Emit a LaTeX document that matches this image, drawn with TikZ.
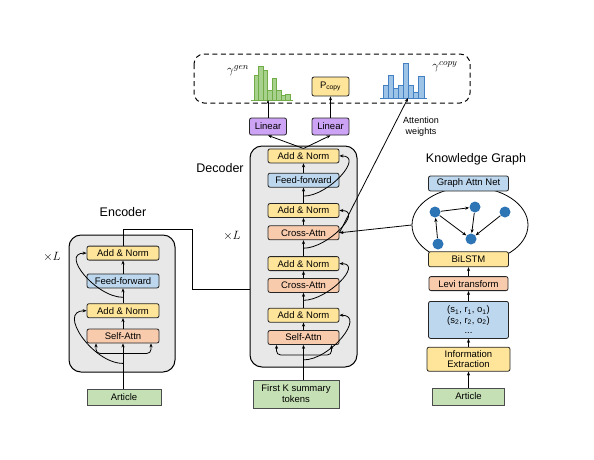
\documentclass[tikz,border=0pt]{standalone}
\usepackage{fontspec}
\setmainfont{Liberation Sans}
\usetikzlibrary{positioning, arrows.meta, shapes.geometric}
\definecolor{normyellow}{RGB}{255,229,153}
\definecolor{ffblue}{RGB}{189,215,238}
\definecolor{attnred}{RGB}{248,203,173}
\definecolor{inputgreen}{RGB}{197,224,180}
\definecolor{linpurple}{RGB}{204,163,245}
\definecolor{stackgray}{RGB}{232,232,232}
\definecolor{graphblue}{RGB}{46,117,182}
\definecolor{histgreen}{RGB}{169,209,142}
\definecolor{histgreenline}{RGB}{112,173,71}
\definecolor{histblue}{RGB}{157,195,230}
\definecolor{histblueline}{RGB}{68,128,196}
\tikzset{
x=1pt, y=-1pt, % coordinates are pixels of the figure, y going down
>={Stealth[length=4pt,width=3.2pt]}, % small filled arrow heads
block/.style={draw=black!85, rounded corners=2pt, minimum height=14pt, inner sep=1pt, font=\fontsize{9.5}{10.5}\selectfont}, % every box of a stack
addnorm/.style={block, fill=normyellow, minimum width=71pt},
ffwd/.style={block, fill=ffblue, minimum width=71pt},
attn/.style={block, fill=attnred, minimum width=71pt},
linear/.style={block, fill=linpurple, minimum width=37pt, minimum height=17pt},
inp/.style={draw=black!70, fill=inputgreen, inner sep=1pt, font=\fontsize{9.5}{11}\selectfont}, % input boxes
stack/.style={draw=black, fill=stackgray, rounded corners=12pt, line width=1pt}, % the gray N x layer
gnode/.style={circle, fill=graphblue, minimum size=11pt, inner sep=0pt}, % graph vertices
title/.style={font=\fontsize{12.5}{14}\selectfont},
}

\begin{document}
\begin{tikzpicture}[line width=0.8pt]
  \useasboundingbox (0,0) rectangle (594,459);

  % output box
  \draw[dash pattern=on 5pt off 3.5pt, line width=1pt, rounded corners=10pt] (194,54) rectangle (470,103);
  \coordinate (gen) at (268,100);
  \coordinate (copy) at (408,98);
  \foreach \h [count=\i] in {25,34,30,10,22,10,5,6}
    \draw[fill=histgreen, draw=histgreenline, line width=0.6pt] (249.5+4.5*\i,100) rectangle ++(4.5,-\h);
  \draw[histgreenline, line width=0.8pt] (251,100) -- (293,100);
  \foreach \h [count=\i] in {13,23,10,13,35,13,6,22}
    \draw[fill=histblue, draw=histblueline, line width=0.6pt] (377.9+5.1*\i,98) rectangle ++(5.1,-\h);
  \draw[histblueline, line width=0.8pt] (380,98) -- (427,98);
  \node[font=\fontsize{12.5}{14}\selectfont] (ggen) at (238,71) {$\gamma^{gen}$};
  \node[font=\fontsize{12.5}{14}\selectfont] (gcopy) at (445,67) {$\gamma^{copy}$};
  \node[block, fill=normyellow, minimum width=37pt, minimum height=19pt] (pcopy) at (330.5,86.5) {P\textsubscript{copy}};

  \node[linear] (lin1) at (268,126.5) {Linear};
  \node[linear] (lin2) at (330.5,126.5) {Linear};
  \draw[->] (lin1) -- (gen);
  \draw[->] (lin2) -- (pcopy);

  % encoder
  \node[title] (enct) at (123,212) {Encoder};
  \node[title] (encl) at (52,257) {$\times L$};
  \filldraw[stack] (69,235) rectangle (175,372);
  \node[attn, minimum width=72pt] (esa) at (123,336) {Self-Attn};
  \node[addnorm, minimum width=72pt, above=10.5pt of esa] (ean1) {Add \& Norm};
  \node[ffwd, minimum width=72pt, above=15pt of ean1] (eff) {Feed-forward};
  \node[addnorm, minimum width=72pt, above=13pt of eff] (ean2) {Add \& Norm};
  \node[inp, minimum width=74pt, minimum height=16pt] (art1) at (124,397) {Article};
  \coordinate[below=10pt of esa] (efork);
  \coordinate[below=20pt of esa] (eres1);
  \coordinate[above=6pt of ean1] (eres2);

  \draw[->] (art1.north -| esa.south) -- (esa.south);
  \draw[->, rounded corners=4pt] (efork) -| ([xshift=-27pt]esa.south);
  \draw[->, rounded corners=4pt] (efork) -| ([xshift=28pt]esa.south);
  \draw[->] (esa) -- (ean1);
  \draw[->] (ean1) -- (eff);
  \draw[->] (eff) -- (ean2);
  \draw[->] (eres1) to[out=180, in=180, looseness=1.2] (ean1.west);
  \draw[->] (eres2) to[out=180, in=180, looseness=1.2] (ean2.west);
  \draw[->] (ean2.north) |- (192,229) |- (269,289);

  % decoder
  \node[title] (dect) at (220,168) {Decoder};
  \node[title] (decl) at (232,236) {$\times L$};
  \filldraw[stack] (250,146) rectangle (357,367);
  \node[attn] (dsa) at (303.5,337.5) {Self-Attn};
  \node[addnorm, above=7.5pt of dsa] (dan1) {Add \& Norm};
  \node[attn, above=15pt of dan1] (dca1) {Cross-Attn};
  \node[addnorm, above=7pt of dca1] (dan2) {Add \& Norm};
  \node[attn, above=16pt of dan2] (dca2) {Cross-Attn};
  \node[addnorm, above=7.5pt of dca2] (dan3) {Add \& Norm};
  \node[ffwd, above=15.5pt of dan3] (dff) {Feed-forward};
  \node[addnorm, above=9.5pt of dff] (dan4) {Add \& Norm};
  \node[inp, minimum width=86pt, minimum height=28pt, align=center] (tok) at (296,394) {First K summary\\tokens};
  \coordinate[below=10pt of dsa] (dfork);
  \coordinate[below=15pt of dsa] (dres1);
  \coordinate[above=7.5pt of dan1] (dres2);
  \coordinate[above=8pt of dan2] (dres3);
  \coordinate[above=7pt of dan3] (dres4);

  \draw[->] (tok.north -| dsa.south) -- (dsa.south);
  \draw[->, rounded corners=4pt] (dfork) -| ([xshift=-27pt]dsa.south);
  \draw[->, rounded corners=4pt] (dfork) -| ([xshift=28pt]dsa.south);
  \draw[->] (dsa) -- (dan1);
  \draw[->] (dan1) -- (dca1);
  \draw[->] (dca1) -- (dan2);
  \draw[->] (dan2) -- (dca2);
  \draw[->] (dca2) -- (dan3);
  \draw[->] (dan3) -- (dff);
  \draw[->] (dff) -- (dan4);
  \draw[->] (dres1) to[out=0, in=0, looseness=1.2] (dan1.east);
  \draw[->] (dres2) to[out=0, in=0, looseness=1.2] (dan2.east);
  \draw[->] (dres3) to[out=0, in=0, looseness=1.2] (dan3.east);
  \draw[->] (dres4) to[out=0, in=0, looseness=1.2] (dan4.east);
  \draw[->] (dan4.north) -- (lin1.south);
  \draw[->] (dan4.north) -- (lin2.south);

  % knowledge graph
  \node[title] (kgt) at (476,159) {Knowledge Graph};
  \node[ellipse, draw, minimum width=116pt, minimum height=76pt, inner sep=0pt] (kg) at (470,225) {};
  \node[inp, minimum width=72pt, minimum height=17pt] (art2) at (468.5,396.5) {Article};
  \node[block, fill=normyellow, minimum width=83pt, minimum height=24pt, align=center, above=16pt of art2] (ie) {Information\\Extraction};
  \node[block, fill=ffblue, minimum width=80pt, minimum height=37pt, align=center, above=8pt of ie] (trip) {(s\textsubscript{1}, r\textsubscript{1}, o\textsubscript{1})\\(s\textsubscript{2}, r\textsubscript{2}, o\textsubscript{2})\\...};
  \node[block, fill=attnred, minimum width=79pt, above=10pt of trip] (levi) {Levi transform};
  \node[block, fill=normyellow, minimum width=80pt, minimum height=15pt, above=9pt of levi] (bilstm) {BiLSTM};
  \node[block, fill=ffblue, minimum width=80pt, minimum height=15pt] (gan) at (468.5,183.5) {Graph Attn Net};
  \node[gnode] (g1) at (435,212) {};
  \node[gnode] (g2) at (475,207) {};
  \node[gnode] (g3) at (505,212) {};
  \node[gnode] (g4) at (438,244) {};
  \node[gnode] (g5) at (471,239) {};

  \draw[->] (g1) edge (g2)
  (g1) edge (g5)
  (g2) edge (g5)
  (g3) edge (g5)
  (g4) edge (g1);
  \draw[->] (art2) -- (ie);
  \draw[->] (ie) -- (trip);
  \draw[->] (trip) -- (levi);
  \draw[->] (levi) -- (bilstm);
  \draw[->] (kg.west) -- (dca2.east);
  \draw[->] (dca2.east) -- (copy);
  \node[font=\fontsize{9}{11}\selectfont, align=center] (attw) at (421,127) {Attention\\weights};
\end{tikzpicture}
\end{document}
